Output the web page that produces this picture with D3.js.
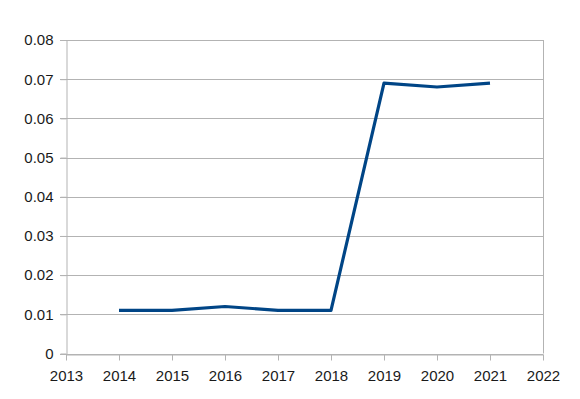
<!DOCTYPE html>
<html>
<head>
<meta charset="utf-8">
<script src="https://cdn.jsdelivr.net/npm/d3@7"></script>
<style>
  html, body { margin: 0; padding: 0; background: #fff; }
  svg { display: block; }
</style>
</head>
<body>
<div id="chart"></div>
<script>
// data
var years = [2014, 2015, 2016, 2017, 2018, 2019, 2020, 2021];
var values = [0.011, 0.011, 0.012, 0.011, 0.011, 0.069, 0.068, 0.069];
var xTicks = [2013, 2014, 2015, 2016, 2017, 2018, 2019, 2020, 2021, 2022];
var yTicks = [0, 0.01, 0.02, 0.03, 0.04, 0.05, 0.06, 0.07, 0.08];

var width = 580, height = 399;
var margin = { top: 40, right: 37, bottom: 45.5, left: 66 };

var svg = d3.select("#chart").append("svg")
    .attr("width", width)
    .attr("height", height);

var x = d3.scaleLinear().domain([2013, 2022]).range([margin.left, width - margin.right]);
var y = d3.scaleLinear().domain([0, 0.08]).range([height - margin.bottom, margin.top]);

//Grid lines
svg.append("g")
    .selectAll("line")
    .data(yTicks)
    .enter().append("line")
    .attr("x1", margin.left - 6)
    .attr("x2", width - margin.right)
    .attr("y1", function (d) { return Math.round(y(d)) + 0.5; })
    .attr("y2", function (d) { return Math.round(y(d)) + 0.5; })
    .attr("stroke", "#b3b3b3")
    .attr("stroke-width", 1);

//Right border
svg.append("line")
    .attr("x1", Math.round(x(2022)) + 0.5)
    .attr("x2", Math.round(x(2022)) + 0.5)
    .attr("y1", y(0.08))
    .attr("y2", y(0))
    .attr("stroke", "#b3b3b3");

//X axis
var xAxis = svg.append("g")
    .attr("transform", "translate(0," + (Math.round(y(0)) + 0.5) + ")")
    .call(d3.axisBottom(x).tickValues(xTicks).tickFormat(d3.format("d")).tickSize(6).tickSizeOuter(0).tickPadding(10));

//Y axis
var yAxis = svg.append("g")
    .attr("transform", "translate(" + (Math.round(x(2013)) + 0.5) + ",0)")
    .call(d3.axisLeft(y).tickValues(yTicks).tickFormat(function (d) { return d === 0 ? "0" : d3.format(".2f")(d); }).tickSize(6).tickSizeOuter(0).tickPadding(7));

[xAxis, yAxis].forEach(function (ax) {
    ax.select(".domain").attr("stroke", "#b3b3b3");
    ax.selectAll(".tick line").attr("stroke", "#b3b3b3");
    ax.selectAll(".tick text")
        .attr("fill", "#1a1a1a")
        .attr("font-family", "Liberation Sans, Arial, sans-serif")
        .attr("font-size", "15px");
});

//Series line
var line = d3.line()
    .x(function (d, i) { return x(years[i]); })
    .y(function (d) { return y(d); });

svg.append("path")
    .datum(values)
    .attr("d", line)
    .attr("fill", "none")
    .attr("stroke", "#004586")
    .attr("stroke-width", 3.2)
    .attr("stroke-linejoin", "round");
</script>
</body>
</html>
